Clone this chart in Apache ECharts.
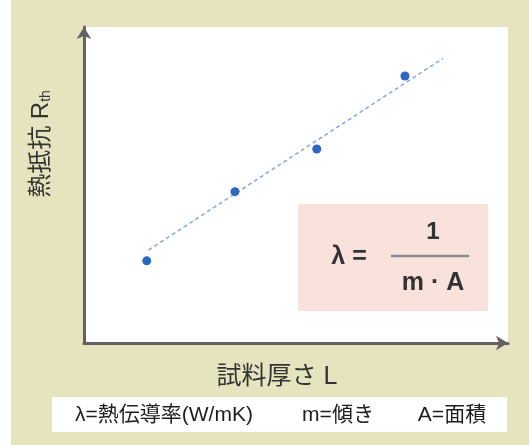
<!DOCTYPE html>
<html>
<head>
<meta charset="utf-8">
<script src="https://cdn.jsdelivr.net/npm/echarts@6/dist/echarts.min.js"></script>
<style>
  html, body { margin: 0; padding: 0; background: #ffffff; }
  #chart { width: 531px; height: 445px; }
</style>
</head>
<body>
<div id="chart"></div>
<script>
// Measured samples: thickness L vs thermal resistance R_th (arbitrary units)
const thicknessL = [1.48, 3.56, 5.49, 7.57];
const resistanceRth = [2.60, 4.79, 6.14, 8.45];

// Least-squares fit line end points
const fitLineX = [1.52, 8.47];
const fitLineY = [2.94, 9.01];

// Axis range (no ticks drawn)
const axisMin = 0;
const axisMax = 10;

// Texts
const xAxisName = '試料厚さ L';
const yAxisMain = '熱抵抗 R';
const yAxisSub = 'th';
const legendTexts = ['λ=熱伝導率(W/mK)', 'm=傾き', 'A=面積'];
const formulaLeft = 'λ =';
const formulaNum = '1';
const formulaDen = 'm · A';

const FONT = '"Liberation Sans", "Noto Sans CJK JP", sans-serif';
const AXIS_COLOR = '#626262';
const NAME_COLOR = '#333333';

const chart = echarts.init(document.getElementById('chart'), null, { renderer: 'canvas' });

const scatterData = thicknessL.map((x, i) => [x, resistanceRth[i]]);
const fitData = fitLineX.map((x, i) => [x, fitLineY[i]]);

const option = {
  backgroundColor: '#e5e4bf',
  animation: false,
  grid: {
    left: 84, right: 23, top: 27, bottom: 102,
    show: true, backgroundColor: '#ffffff', borderWidth: 0
  },
  xAxis: {
    type: 'value', min: axisMin, max: axisMax,
    name: xAxisName, nameLocation: 'middle', nameGap: 22,
    nameTextStyle: { fontFamily: FONT, fontSize: 25, color: NAME_COLOR, padding: [0, 38, 0, 0] },
    axisLine: { show: true, symbol: ['none', 'arrow'], symbolSize: [11, 12],
      lineStyle: { color: AXIS_COLOR, width: 3 } },
    axisTick: { show: false }, axisLabel: { show: false }, splitLine: { show: false }
  },
  yAxis: {
    type: 'value', min: axisMin, max: axisMax,
    name: '{a|' + yAxisMain + '}{s|' + yAxisSub + '}',
    nameLocation: 'middle', nameGap: 31, nameRotate: 90,
    nameTextStyle: {
      fontFamily: FONT, color: NAME_COLOR, padding: [0, 0, 0, 82],
      rich: {
        a: { fontFamily: FONT, fontSize: 24, color: NAME_COLOR },
        s: { fontFamily: FONT, fontSize: 14, color: NAME_COLOR, verticalAlign: 'bottom' }
      }
    },
    axisLine: { show: true, symbol: ['none', 'arrow'], symbolSize: [11, 12],
      lineStyle: { color: AXIS_COLOR, width: 3 } },
    axisTick: { show: false }, axisLabel: { show: false }, splitLine: { show: false }
  },
  series: [
    {
      type: 'line', data: fitData, symbol: 'none', silent: true,
      lineStyle: { color: '#86a9da', width: 1.5, type: [4, 3] }, z: 2
    },
    {
      type: 'scatter', data: scatterData, symbolSize: 9,
      itemStyle: { color: '#2a68c2', opacity: 1 }, z: 3
    }
  ],
  graphic: [
    // white margin strips left and right of the panel
    { type: 'rect', left: 0, top: 0, shape: { width: 11, height: 445 }, style: { fill: '#ffffff' }, silent: true },
    { type: 'rect', left: 529, top: 0, shape: { width: 2, height: 445 }, style: { fill: '#ffffff' }, silent: true },
    // formula box
    { type: 'rect', left: 298, top: 204, shape: { width: 190, height: 107 }, style: { fill: '#f9e2dc' }, z: 10 },
    { type: 'text', x: 349, y: 257, z: 11,
      style: { text: formulaLeft, font: 'bold 25px ' + FONT, fill: '#333333', align: 'center', verticalAlign: 'middle' } },
    { type: 'text', x: 433, y: 232, z: 11,
      style: { text: formulaNum, font: 'bold 24px ' + FONT, fill: '#333333', align: 'center', verticalAlign: 'middle' } },
    { type: 'line', z: 11, shape: { x1: 391, y1: 256, x2: 469, y2: 256 },
      style: { stroke: '#8a8a8a', lineWidth: 2.5 } },
    { type: 'text', x: 433, y: 283, z: 11,
      style: { text: formulaDen, font: 'bold 25px ' + FONT, fill: '#333333', align: 'center', verticalAlign: 'middle' } },
    // legend strip
    { type: 'rect', left: 52, top: 397, shape: { width: 455, height: 35 }, style: { fill: '#ffffff' }, z: 10 },
    { type: 'text', x: 164, y: 415, z: 11,
      style: { text: legendTexts[0], font: '21px ' + FONT, fill: '#1e1e1e', align: 'center', verticalAlign: 'middle' } },
    { type: 'text', x: 338, y: 415, z: 11,
      style: { text: legendTexts[1], font: '21px ' + FONT, fill: '#1e1e1e', align: 'center', verticalAlign: 'middle' } },
    { type: 'text', x: 452, y: 415, z: 11,
      style: { text: legendTexts[2], font: '21px ' + FONT, fill: '#1e1e1e', align: 'center', verticalAlign: 'middle' } }
  ]
};

chart.setOption(option);
</script>
</body>
</html>
